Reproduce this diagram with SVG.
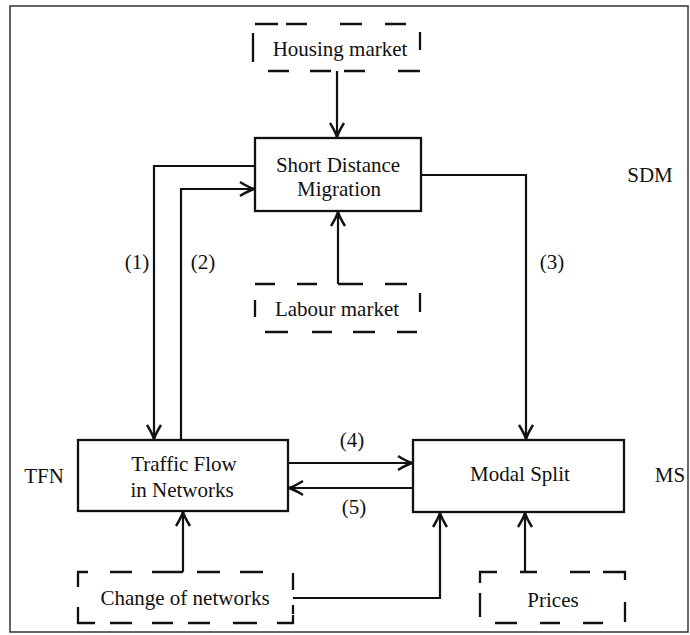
<svg xmlns="http://www.w3.org/2000/svg" width="690" height="635" viewBox="0 0 690 635">
<style>
text{font-size:21px;fill:#111;text-anchor:middle}
.box{fill:none;stroke:#111;stroke-width:2.3}
.dash{fill:none;stroke:#111;stroke-width:2.3}
.con{fill:none;stroke:#111;stroke-width:2.2}
.frame{fill:none;stroke:#333;stroke-width:1.5}
</style>
<defs>
<marker id="arr" viewBox="-15 -9 17 18" refX="0" refY="0" markerWidth="17" markerHeight="18" markerUnits="userSpaceOnUse" orient="auto">
<path d="M-14,-7 Q-6,-2 0,0 Q-6,2 -14,7" fill="none" stroke="#111" stroke-width="2.4"/>
</marker>
</defs>
<rect class="frame" x="10" y="6" width="678" height="626"/>
<g id="connectors">
<path class="con" d="M337,71 V137" marker-end="url(#arr)"/>
<path class="con" d="M338,284 V212" marker-end="url(#arr)"/>
<path class="con" d="M255,166 H154 V439" marker-end="url(#arr)"/>
<path class="con" d="M181,440 V189 H254" marker-end="url(#arr)"/>
<path class="con" d="M421,175 H526 V439" marker-end="url(#arr)"/>
<path class="con" d="M288,463 H412" marker-end="url(#arr)"/>
<path class="con" d="M413,488 H289" marker-end="url(#arr)"/>
<path class="con" d="M183,572 V512" marker-end="url(#arr)"/>
<path class="con" d="M293,598 H440 V513" marker-end="url(#arr)"/>
<path class="con" d="M525,572 V513" marker-end="url(#arr)"/>
</g>
<g font-family="'Liberation Serif', 'DejaVu Serif', serif">
<g id="housing">
<path class="dash" d="M255,24 H278 M286,24 H307 M340,24 H362 M385,24 H406 M268,71 H289 M310,71 H331 M344,71 H365 M398,71 H420 M253,33 V62 M420,32 V50"/>
<text x="340" y="56">Housing market</text>
</g>
<g id="sdm">
<rect class="box" x="255" y="138" width="166" height="73"/>
<text x="338" y="172">Short Distance</text>
<text x="339" y="196">Migration</text>
</g>
<g id="labour">
<path class="dash" d="M255,284 H275 M297,284 H317 M338,284 H363 M385,284 H407 M265,332 H288 M312,332 H332 M353,332 H375 M397,332 H417 M255,300 V317 M420,293 V312"/>
<text x="337" y="316">Labour market</text>
</g>
<g id="tfn">
<rect class="box" x="78" y="440" width="210" height="71"/>
<text x="184" y="471">Traffic Flow</text>
<text x="182" y="497">in Networks</text>
</g>
<g id="ms">
<rect class="box" x="413" y="440" width="211" height="72"/>
<text x="520" y="481">Modal Split</text>
</g>
<g id="change">
<path class="dash" d="M78,587 V572 H88 M110,572 H132 M152,572 H183 M197,572 H220 M240,572 H263 M293,573 V590 M293,605 V614 M78,607 V623 H95 M110,623 H132 M152,623 H173 M188,623 H210 M233,623 H257 M277,623 H293 V615"/>
<text x="185" y="605">Change of networks</text>
</g>
<g id="prices">
<path class="dash" d="M480,583 V572 H497 M520,572 H537 M570,572 H590 M603,572 H625 V580 M480,593 V617 M625,602 V622 M495,623 H517 M540,623 H560 M583,623 H603"/>
<text x="553" y="607">Prices</text>
</g>
<g id="labels">
<text x="650" y="182">SDM</text>
<text x="44" y="483">TFN</text>
<text x="670" y="482">MS</text>
<text x="137" y="269">(1)</text>
<text x="203" y="269">(2)</text>
<text x="552" y="269">(3)</text>
<text x="352" y="447">(4)</text>
<text x="354" y="514">(5)</text>
</g>
</g>
</svg>
